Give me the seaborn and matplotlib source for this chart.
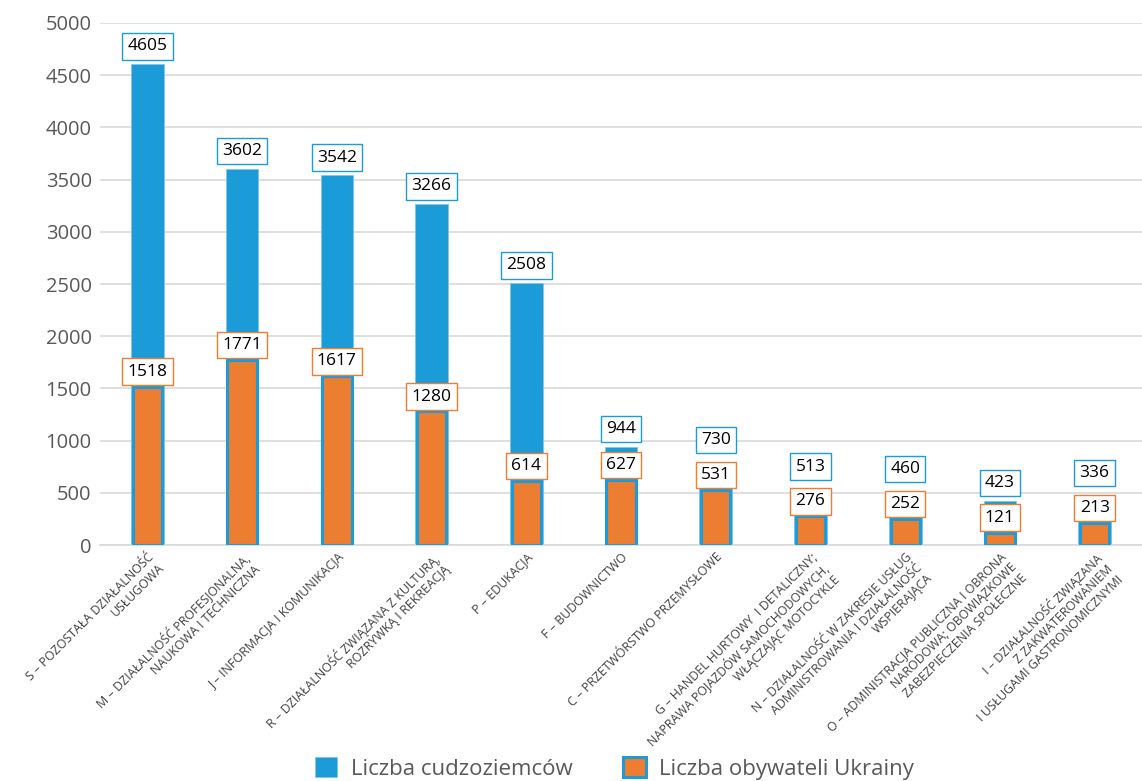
import matplotlib
matplotlib.use("Agg")
import matplotlib.pyplot as plt
import matplotlib.patches as mpatches
import seaborn as sns

# dane
sekcje = [
    "S – POZOSTAŁA DZIAŁALNOŚĆ\nUSŁUGOWA",
    "M – DZIAŁALNOŚĆ PROFESJONALNA,\nNAUKOWA I TECHNICZNA",
    "J – INFORMACJA I KOMUNIKACJA",
    "R – DZIAŁALNOŚĆ ZWIĄZANA Z KULTURĄ,\nROZRYWKĄ I REKREACJĄ",
    "P – EDUKACJA",
    "F – BUDOWNICTWO",
    "C – PRZETWÓRSTWO PRZEMYSŁOWE",
    "G – HANDEL HURTOWY  I DETALICZNY;\nNAPRAWA POJAZDÓW SAMOCHODOWYCH,\nWŁĄCZAJĄC MOTOCYKLE",
    "N – DZIAŁALNOŚĆ W ZAKRESIE USŁUG\nADMINISTROWANIA I DZIAŁALNOŚĆ\nWSPIERAJĄCA",
    "O – ADMINISTRACJA PUBLICZNA I OBRONA\nNARODOWA; OBOWIĄZKOWE\nZABEZPIECZENIA SPOŁECZNE",
    "I – DZIAŁALNOŚĆ ZWIĄZANA\nZ ZAKWATEROWANIEM\nI USŁUGAMI GASTRONOMICZNYMI",
]
cudzoziemcy = [4605, 3602, 3542, 3266, 2508, 944, 730, 513, 460, 423, 336]
ukraincy = [1518, 1771, 1617, 1280, 614, 627, 531, 276, 252, 121, 213]

NIEBIESKI = "#1b9cd8"
POMARANCZ = "#ed7d31"
SZARY = "#595959"

sns.set_style("white")
plt.rcParams["font.family"] = ["Open Sans", "DejaVu Sans"]

fig = plt.figure(figsize=(11.42, 7.81), dpi=100)
ax = fig.add_axes([0.0876, 0.302, 0.9124, 0.6686])

sns.barplot(x=sekcje, y=cudzoziemcy, color=NIEBIESKI, saturation=1, width=0.345,
            edgecolor="#7fc6ea", linewidth=0.6, ax=ax, zorder=2)
sns.barplot(x=sekcje, y=ukraincy, color=POMARANCZ, saturation=1, width=0.31,
            edgecolor=NIEBIESKI, linewidth=2.2, ax=ax, zorder=3)

ax.set_ylim(0, 5000)
ax.set_xlim(-0.5, len(sekcje) - 0.5)

# etykiety danych w ramkach (niebieska podnoszona, gdy koliduje z pomarańczową)
px_na_jedn = ax.transData.transform((0, 1))[1] - ax.transData.transform((0, 0))[1]
pt = 72 / fig.dpi
wys_ramki = 22  # pt, wysokość ramki z etykietą
for i, (c, u) in enumerate(zip(cudzoziemcy, ukraincy)):
    off_u = 5
    off_c = max(7, (u - c) * px_na_jedn * pt + off_u + wys_ramki + 3)
    ax.annotate(str(c), (i, c), xytext=(0, off_c), textcoords="offset points",
                ha="center", va="bottom", fontsize=12.5, color="black", zorder=5,
                bbox=dict(boxstyle="square,pad=0.3", fc="white", ec=NIEBIESKI, lw=1))
    ax.annotate(str(u), (i, u), xytext=(0, off_u), textcoords="offset points",
                ha="center", va="bottom", fontsize=12.5, color="black", zorder=5,
                bbox=dict(boxstyle="square,pad=0.3", fc="white", ec=POMARANCZ, lw=1))

ax.set_yticks(range(0, 5001, 500))
ax.yaxis.grid(True, color="#d9d9d9", lw=1.2)
ax.set_axisbelow(True)
for s in ["top", "right", "left"]:
    ax.spines[s].set_visible(False)
ax.spines["bottom"].set_color("#d9d9d9")
ax.spines["bottom"].set_linewidth(1.2)
ax.tick_params(axis="y", length=0, labelsize=14.5, labelcolor=SZARY, pad=6)
ax.tick_params(axis="x", length=0, pad=4)
plt.setp(ax.get_xticklabels(), rotation=45, ha="right", va="top",
         rotation_mode="anchor", multialignment="right", fontsize=8.9,
         color="#404040", linespacing=1.15)

# legenda
uchwyty = [
    mpatches.Patch(facecolor=NIEBIESKI, edgecolor="#7fc6ea", lw=0.6, label="Liczba cudzoziemców"),
    mpatches.Patch(facecolor=POMARANCZ, edgecolor=NIEBIESKI, lw=2.2, label="Liczba obywateli Ukrainy"),
]
leg = fig.legend(handles=uchwyty, loc="lower center", bbox_to_anchor=(0.538, -0.024), ncol=2,
                 frameon=False, fontsize=16, handlelength=1.0, handleheight=1.0,
                 columnspacing=2.3, handletextpad=0.6)
for t in leg.get_texts():
    t.set_color(SZARY)

plt.savefig("out.png", dpi=100)
